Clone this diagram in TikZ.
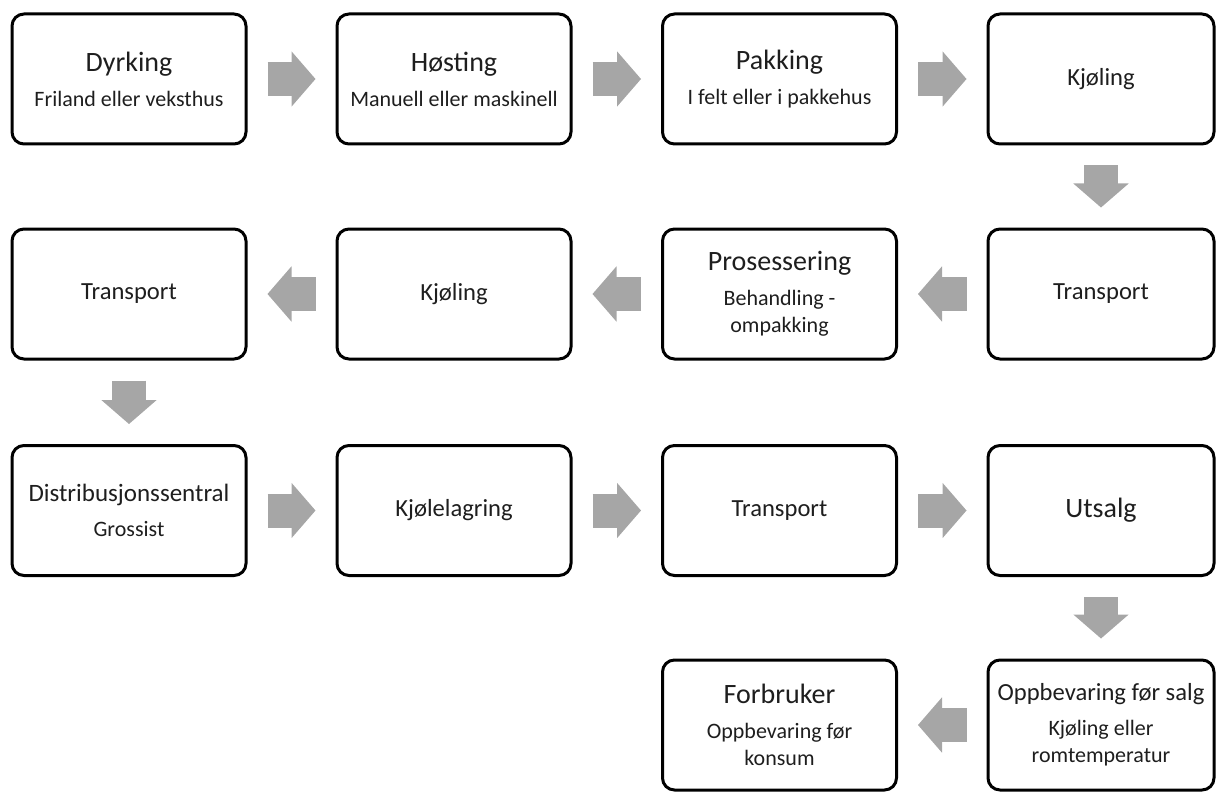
\documentclass[tikz,border=0pt]{standalone}
\usepackage{fontspec}
\setmainfont{Carlito}
\usepackage{tikz}
\usetikzlibrary{arrows.meta}
\definecolor{flowgray}{RGB}{166,166,166}
\definecolor{boxtext}{RGB}{30,30,30}
\newcommand{\stagetitle}{\fontsize{14}{17}\selectfont}
\newcommand{\stagename}{\fontsize{12.3}{15}\selectfont}

\begin{document}
\begin{tikzpicture}[x=0.5pt,y=-0.5pt,
  stage/.style={draw=black,line width=1.5pt,rounded corners=6pt,
    minimum width=117pt,minimum height=65pt,inner sep=2pt,align=center,
    text=boxtext,font=\fontsize{11}{13.5}\selectfont},
  narrow/.style={minimum width=113pt},
  flow/.style={draw=flowgray,line width=17pt,
    -{Triangle[length=12pt,width=27.5pt,line width=1pt]},
    shorten <=10pt,shorten >=10pt}]
  \useasboundingbox (0,0) rectangle (1216,792);

  %% Row 1: field to cooling
  \node[stage] (dyrking) at (129,79)
        {{\stagetitle Dyrking}\\[4pt]Friland eller veksthus};
  \node[stage] (hosting) at (454,79)
        {{\stagetitle Høsting}\\[4pt]Manuell eller maskinell};
  \node[stage] (pakking) at (779.5,79)
        {{\stagetitle Pakking}\\[4pt]I felt eller i pakkehus};
  \node[stage,narrow] (kjoling) at (1101,79) {{\stagename Kjøling}};

  %% Row 2: back to the left
  \node[stage,narrow] (transportA) at (1101,294) {{\stagename Transport}};
  \node[stage] (prosessering) at (779.5,294)
        {{\stagetitle Prosessering}\\[4pt]Behandling -\\ompakking};
  \node[stage] (kjolingB) at (454,294) {{\stagename Kjøling}};
  \node[stage] (transportB) at (129,294) {{\stagename Transport}};

  %% Row 3: distribution
  \node[stage] (distribusjon) at (129,510.5)
        {{\fontsize{12.5}{15}\selectfont Distribusjonssentral}\\[4pt]Grossist};
  \node[stage] (kjolelagring) at (454,510.5) {{\stagename Kjølelagring}};
  \node[stage] (transportC) at (779.5,510.5) {{\stagename Transport}};
  \node[stage,narrow] (utsalg) at (1101,510.5) {{\stagetitle Utsalg}};

  %% Row 4: shop and consumer
  \node[stage,narrow] (oppbevaring) at (1101,725)
        {{\stagename Oppbevaring før salg}\\[4pt]Kjøling eller\\romtemperatur};
  \node[stage] (forbruker) at (779.5,725)
        {{\stagetitle Forbruker}\\[4pt]Oppbevaring før\\konsum};

  %% Block arrows
  \foreach \from/\to in {dyrking/hosting, hosting/pakking, pakking/kjoling,
                         kjoling/transportA, transportA/prosessering,
                         prosessering/kjolingB, kjolingB/transportB,
                         transportB/distribusjon, distribusjon/kjolelagring,
                         kjolelagring/transportC, transportC/utsalg,
                         utsalg/oppbevaring, oppbevaring/forbruker}{
    \draw[flow] (\from) -- (\to);
  }
\end{tikzpicture}
\end{document}
